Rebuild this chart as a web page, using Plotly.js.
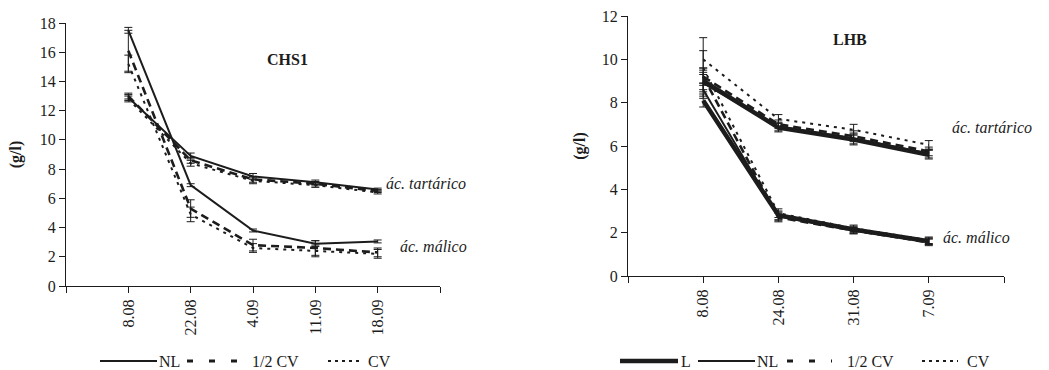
<!DOCTYPE html>
<html>
<head>
<meta charset="utf-8">
<script src="https://cdn.plot.ly/plotly-3.0.1.min.js"></script>
<style>html,body{margin:0;padding:0;background:#fff;}#chart{width:1049px;height:370px;}</style>
</head>
<body>
<div id="chart"></div>
<script>
// ---- CHS1 panel ----
const chsDates = ['8.08', '22.08', '4.09', '11.09', '18.09'];
const chsTartNL   = [12.9, 8.9, 7.5, 7.1, 6.6];
const chsTartHalf = [13.0, 8.6, 7.3, 7.0, 6.5];
const chsTartCV   = [12.8, 8.4, 7.2, 6.9, 6.4];
const chsTartErr  = [0.2, 0.2, 0.2, 0.15, 0.1];
const chsMalNL    = [17.5, 6.9, 3.8, 2.9, 3.05];
const chsMalHalf  = [16.1, 5.3, 2.8, 2.6, 2.3];
const chsMalCV    = [15.2, 4.9, 2.6, 2.4, 2.2];
const chsMalErrNL   = [0.2, 0.1, 0.1, 0.2, 0.1];
const chsMalErrHalf = [1.4, 0.6, 0.4, 0.5, 0.3];
const chsMalErrCV   = [0.6, 0.5, 0.3, 0.4, 0.3];

// ---- LHB panel ----
const lhbDates = ['8.08', '24.08', '31.08', '7.09'];
const lhbTartL    = [9.0, 6.85, 6.3, 5.6];
const lhbTartNL   = [8.9, 6.9, 6.35, 5.65];
const lhbTartHalf = [9.2, 7.0, 6.45, 5.75];
const lhbTartCV   = [10.0, 7.25, 6.75, 6.05];
const lhbTartErr  = [0.4, 0.2, 0.25, 0.2];
const lhbMalL     = [8.1, 2.8, 2.15, 1.6];
const lhbMalNL    = [8.6, 2.75, 2.1, 1.6];
const lhbMalHalf  = [9.2, 2.7, 2.1, 1.55];
const lhbMalCV    = [9.6, 2.9, 2.2, 1.65];
const lhbMalErr   = [0.3, 0.2, 0.15, 0.15];
const lhbMalErrCV = [1.4, 0.2, 0.15, 0.15];

const yTicksL = [0, 2, 4, 6, 8, 10, 12, 14, 16, 18];
const yTicksR = [0, 2, 4, 6, 8, 10, 12];

const legendLeft  = ['NL', '1/2 CV', 'CV'];
const legendRight = ['L', 'NL', '1/2 CV', 'CV'];

const INK = '#1c1c1c';
const SERIF = "'Liberation Serif', 'Times New Roman', Times, serif";

const idx = a => a.map((_, i) => i);

const STY = {
  'L':      {width: 4.5, dash: 'solid'},
  'NL':     {width: 2, dash: 'solid'},
  '1/2 CV': {width: 2.6, dash: '8px,5px'},
  'CV':     {width: 2, dash: '3px,5px'}
};
const LEG_STY = {
  'L':      {width: 4.5, dash: 'solid'},
  'NL':     {width: 1.8, dash: 'solid'},
  '1/2 CV': {width: 3, dash: '6px,16px'},
  'CV':     {width: 1.8, dash: '3px,4px'}
};

function tr(dates, y, err, name, xa, ya) {
  return {
    type: 'scatter', mode: 'lines',
    x: idx(dates), y: y,
    xaxis: xa, yaxis: ya,
    name: name, showlegend: false,
    line: Object.assign({color: INK}, STY[name]),
    error_y: {type: 'data', array: err, visible: true, color: INK, thickness: 1, width: 4},
    hoverinfo: 'skip'
  };
}

const data = [
  tr(chsDates, chsTartNL, chsTartErr, 'NL', 'x', 'y'),
  tr(chsDates, chsTartHalf, chsTartErr, '1/2 CV', 'x', 'y'),
  tr(chsDates, chsTartCV, chsTartErr, 'CV', 'x', 'y'),
  tr(chsDates, chsMalNL, chsMalErrNL, 'NL', 'x', 'y'),
  tr(chsDates, chsMalHalf, chsMalErrHalf, '1/2 CV', 'x', 'y'),
  tr(chsDates, chsMalCV, chsMalErrCV, 'CV', 'x', 'y'),

  tr(lhbDates, lhbTartCV, lhbTartErr, 'CV', 'x2', 'y2'),
  tr(lhbDates, lhbTartHalf, lhbTartErr, '1/2 CV', 'x2', 'y2'),
  tr(lhbDates, lhbTartNL, lhbTartErr, 'NL', 'x2', 'y2'),
  tr(lhbDates, lhbTartL, lhbTartErr, 'L', 'x2', 'y2'),
  tr(lhbDates, lhbMalCV, lhbMalErrCV, 'CV', 'x2', 'y2'),
  tr(lhbDates, lhbMalHalf, lhbMalErr, '1/2 CV', 'x2', 'y2'),
  tr(lhbDates, lhbMalNL, lhbMalErr, 'NL', 'x2', 'y2'),
  tr(lhbDates, lhbMalL, lhbMalErr, 'L', 'x2', 'y2')
];

const TF = {family: SERIF, size: 16, color: INK};

function xAxis(dates, domain, anchor) {
  const vals = [-1].concat(idx(dates), [dates.length]);
  const txt = [''].concat(dates, ['']);
  return {
    domain: domain, anchor: anchor,
    range: [-1, dates.length],
    tickmode: 'array', tickvals: vals, ticktext: txt,
    tickangle: -90,
    ticks: 'outside', ticklen: 6, tickcolor: INK, tickwidth: 1,
    showline: true, linecolor: INK, linewidth: 1,
    showgrid: false, zeroline: false,
    tickfont: TF,
    fixedrange: true
  };
}
function xAxisIn(dates, over, anchor) {
  const vals = [-1].concat(idx(dates), [dates.length]);
  return {
    overlaying: over, anchor: anchor, side: 'bottom',
    range: [-1, dates.length],
    tickmode: 'array', tickvals: vals, showticklabels: false,
    ticks: 'inside', ticklen: 5, tickcolor: INK, tickwidth: 1,
    showline: false, showgrid: false, zeroline: false, fixedrange: true
  };
}
function yAxis(ticks, domain, anchor, standoff) {
  return {
    domain: domain, anchor: anchor,
    range: [0, ticks[ticks.length - 1]],
    tickmode: 'array', tickvals: ticks,
    ticks: 'outside', ticklen: 6, tickcolor: INK, tickwidth: 1,
    showline: true, linecolor: INK, linewidth: 1,
    showgrid: false, zeroline: false,
    tickfont: TF,
    title: {text: '<b>(g/l)</b>', font: {family: SERIF, size: 16, color: INK}, standoff: standoff},
    fixedrange: true
  };
}
function yAxisIn(ticks, over, anchor) {
  return {
    overlaying: over, anchor: anchor, side: 'left',
    range: [0, ticks[ticks.length - 1]],
    tickmode: 'array', tickvals: ticks, showticklabels: false,
    ticks: 'inside', ticklen: 5, tickcolor: INK, tickwidth: 1,
    showline: false, showgrid: false, zeroline: false, fixedrange: true
  };
}

const W = 1049, H = 370;

// legend (drawn as shapes + text in paper space)
const shapes = [];
const annotations = [
  {xref: 'x', yref: 'y', x: 2.55, y: 15.5, text: '<b>CHS1</b>', showarrow: false,
   font: {family: SERIF, size: 16, color: INK}},
  {xref: 'x2', yref: 'y2', x: 1.95, y: 10.9, text: '<b>LHB</b>', showarrow: false,
   font: {family: SERIF, size: 16, color: INK}},
  {xref: 'x', yref: 'y', x: 4.1, y: 7.0, xanchor: 'left', text: '<i>ác. tartárico</i>', showarrow: false,
   font: {family: SERIF, size: 16, color: INK}},
  {xref: 'x', yref: 'y', x: 4.33, y: 2.7, xanchor: 'left', text: '<i>ác. málico</i>', showarrow: false,
   font: {family: SERIF, size: 16, color: INK}},
  {xref: 'x2', yref: 'y2', x: 3.28, y: 6.87, xanchor: 'left', text: '<i>ác. tartárico</i>', showarrow: false,
   font: {family: SERIF, size: 16, color: INK}},
  {xref: 'x2', yref: 'y2', x: 3.16, y: 1.78, xanchor: 'left', text: '<i>ác. málico</i>', showarrow: false,
   font: {family: SERIF, size: 16, color: INK}}
];
const LEG_Y = 1 - 361 / H;
function addLegend(names, segs, textX) {
  names.forEach((n, i) => {
    shapes.push({type: 'line', xref: 'paper', yref: 'paper',
      x0: segs[i][0] / W, x1: segs[i][1] / W, y0: LEG_Y, y1: LEG_Y,
      line: Object.assign({color: INK}, LEG_STY[n])});
    annotations.push({xref: 'paper', yref: 'paper', x: textX[i] / W, y: LEG_Y,
      xanchor: 'left', yanchor: 'middle', text: n, showarrow: false,
      font: {family: SERIF, size: 16, color: INK}});
  });
}
addLegend(legendLeft, [[100, 157], [187, 237], [328, 360]], [157, 250, 366]);
addLegend(legendRight, [[620, 678], [698, 755], [787, 832], [922, 958]], [679, 755, 845, 965]);

const layout = {
  width: W, height: H,
  margin: {l: 0, r: 0, t: 0, b: 0},
  paper_bgcolor: '#fff', plot_bgcolor: 'rgba(0,0,0,0)',
  showlegend: false,
  xaxis: xAxis(chsDates, [66 / W, 440 / W], 'y'),
  yaxis: yAxis(yTicksL, [1 - 286 / H, 1 - 23 / H], 'x', 14),
  xaxis2: xAxis(lhbDates, [628 / W, 1004 / W], 'y2'),
  yaxis2: yAxis(yTicksR, [1 - 276 / H, 1 - 16 / H], 'x2', 12),
  xaxis3: xAxisIn(chsDates, 'x', 'y'),
  yaxis3: yAxisIn(yTicksL, 'y', 'x'),
  xaxis4: xAxisIn(lhbDates, 'x2', 'y2'),
  yaxis4: yAxisIn(yTicksR, 'y2', 'x2'),
  shapes: shapes,
  annotations: annotations
};

Plotly.newPlot('chart', data, layout, {displayModeBar: false, staticPlot: true});
</script>
</body>
</html>
